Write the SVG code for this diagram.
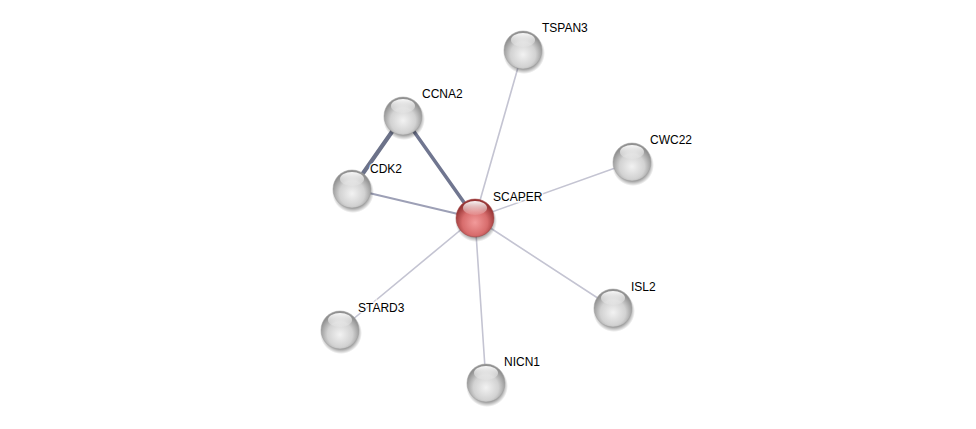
<svg xmlns="http://www.w3.org/2000/svg" width="976" height="429" viewBox="0 0 976 429">
<defs>
<radialGradient id="gGray" cx="0.5" cy="0.62" r="0.55">
<stop offset="0" stop-color="#f2f2f2"/>
<stop offset="0.6" stop-color="#d2d2d2"/>
<stop offset="1" stop-color="#909090"/>
</radialGradient>
<radialGradient id="gRed" cx="0.5" cy="0.62" r="0.55">
<stop offset="0" stop-color="#f29a9a"/>
<stop offset="0.6" stop-color="#d86d6d"/>
<stop offset="1" stop-color="#963434"/>
</radialGradient>
<linearGradient id="hl" x1="0" y1="0" x2="0" y2="1">
<stop offset="0" stop-color="#ffffff" stop-opacity="0.95"/>
<stop offset="1" stop-color="#ffffff" stop-opacity="0.1"/>
</linearGradient>
<radialGradient id="sh" cx="0.5" cy="0.5" r="0.5">
<stop offset="0.75" stop-color="#000" stop-opacity="0.4"/>
<stop offset="1" stop-color="#000" stop-opacity="0"/>
</radialGradient>
<g id="ballG">
<circle cx="1" cy="3" r="21" fill="url(#sh)"/>
<circle r="19" fill="url(#gGray)" stroke="#a0a0a0" stroke-width="0.5"/>
<ellipse cx="0" cy="-10" rx="12" ry="7" fill="url(#hl)"/>
</g>
<g id="ballR">
<circle cx="1" cy="3" r="21" fill="url(#sh)"/>
<circle r="19" fill="url(#gRed)" stroke="#a04040" stroke-width="0.5"/>
<ellipse cx="0" cy="-10" rx="12" ry="7" fill="url(#hl)"/>
</g>
</defs>
<style>
.lbl{font-family:"Liberation Sans",Arial,sans-serif;font-size:12px;fill:#000;paint-order:stroke;stroke:#fff;stroke-opacity:0.8;stroke-width:3px}
.e{stroke-linecap:round;fill:none}
.thin{stroke:#c4c4d2;stroke-width:1.6}
.mid{stroke:#9da0b6;stroke-width:2}
.thick{stroke:#707690;stroke-width:3.5}
.thicker{stroke:#6c7289;stroke-width:4.2}
</style>
<rect width="976" height="429" fill="#fff"/>
<g id="edges">
<line class="e thicker" x1="403" y1="116" x2="352" y2="189"/>
<line class="e thick" x1="403" y1="116" x2="475" y2="218"/>
<line class="e mid" x1="352" y1="189" x2="475" y2="218"/>
<line class="e thin" x1="523" y1="50" x2="475" y2="218"/>
<line class="e thin" x1="632" y1="162" x2="475" y2="218"/>
<line class="e thin" x1="613" y1="308" x2="475" y2="218"/>
<line class="e thin" x1="486" y1="383" x2="475" y2="218"/>
<line class="e thin" x1="340" y1="330" x2="475" y2="218"/>
</g>
<g id="TSPAN3"><use href="#ballG" x="523" y="50"/><text class="lbl" x="542" y="32">TSPAN3</text></g>
<g id="CCNA2"><use href="#ballG" x="403" y="116"/><text class="lbl" x="422" y="98">CCNA2</text></g>
<g id="CDK2"><use href="#ballG" x="352" y="189"/><text class="lbl" x="370" y="173">CDK2</text></g>
<g id="CWC22"><use href="#ballG" x="632" y="162"/><text class="lbl" x="650" y="144">CWC22</text></g>
<g id="ISL2"><use href="#ballG" x="613" y="308"/><text class="lbl" x="631" y="291">ISL2</text></g>
<g id="STARD3"><use href="#ballG" x="340" y="330"/><text class="lbl" x="358" y="312">STARD3</text></g>
<g id="NICN1"><use href="#ballG" x="486" y="383"/><text class="lbl" x="504" y="366">NICN1</text></g>
<g id="SCAPER"><use href="#ballR" x="475" y="218"/><text class="lbl" x="493" y="201">SCAPER</text></g>
</svg>
